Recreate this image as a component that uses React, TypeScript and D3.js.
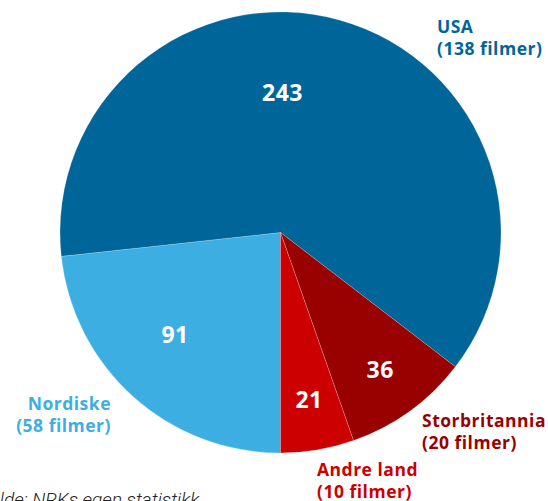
import React from "react";
import * as d3 from "d3";

const categories = ["Nordiske", "USA", "Storbritannia", "Andre land"];
const values = [91, 243, 36, 21];
const filmCounts = [58, 138, 20, 10];
const colors = ["#3daee2", "#006699", "#990000", "#cc0000"];
const sourceText = "Kilde: NRKs egen statistikk";

// label layout (styling, not data)
const valueLabelRadius = [147, 140, 170, 170];
const valueLabelAngleOverride: (number | null)[] = [3.941, 0.014, null, null];
const nameLabelPos = [
  { x: 111, y: 410, anchor: "end" },
  { x: 437, y: 33, anchor: "start" },
  { x: 422, y: 427, anchor: "start" },
  { x: 317, y: 476, anchor: "start" },
];

export default function App() {
  const W = 548, H = 501;
  const cx = 280.5, cy = 232.5, R = 220.5;
  const pie = d3.pie<number>().sort(null).startAngle(Math.PI).endAngle(3 * Math.PI);
  const arcs = pie(values);
  const arc = d3.arc<d3.PieArcDatum<number>>().innerRadius(0).outerRadius(R);
  const font = "'Open Sans', Roboto, sans-serif";
  return (
    <svg width={W} height={H} style={{ position: "absolute", left: 0, top: 0, background: "#fff" }}>
      <g transform={`translate(${cx},${cy})`}>
        {arcs.map((a, i) => (
          <path key={i} d={arc(a) || ""} fill={colors[i]} stroke="#ffffff" strokeOpacity={0.35} strokeWidth={0.6} />
        ))}
        {arcs.map((a, i) => {
          const ang = valueLabelAngleOverride[i] ?? (a.startAngle + a.endAngle) / 2;
          const r = valueLabelRadius[i];
          const x = r * Math.sin(ang);
          const y = -r * Math.cos(ang);
          return (
            <text key={i} x={x} y={y} dy="0.36em" textAnchor="middle" fill="#fff"
              fontFamily={font} fontWeight={700} fontSize={23} letterSpacing={0.5}>
              {values[i]}
            </text>
          );
        })}
      </g>
      {categories.map((c, i) => (
        <text key={c} x={nameLabelPos[i].x} y={nameLabelPos[i].y} textAnchor={nameLabelPos[i].anchor as any}
          fill={colors[i]} fontFamily={font} fontWeight={700} fontSize={17.5} letterSpacing={0.5}>
          <tspan x={nameLabelPos[i].x}>{c}</tspan>
          <tspan x={nameLabelPos[i].x} dy={22}>{`(${filmCounts[i]} filmer)`}</tspan>
        </text>
      ))}
      <text x={-16} y={506} fontFamily="Roboto, sans-serif" fontStyle="italic" fontWeight={300} fontSize={19} fill="#222">{sourceText}</text>
    </svg>
  );
}
